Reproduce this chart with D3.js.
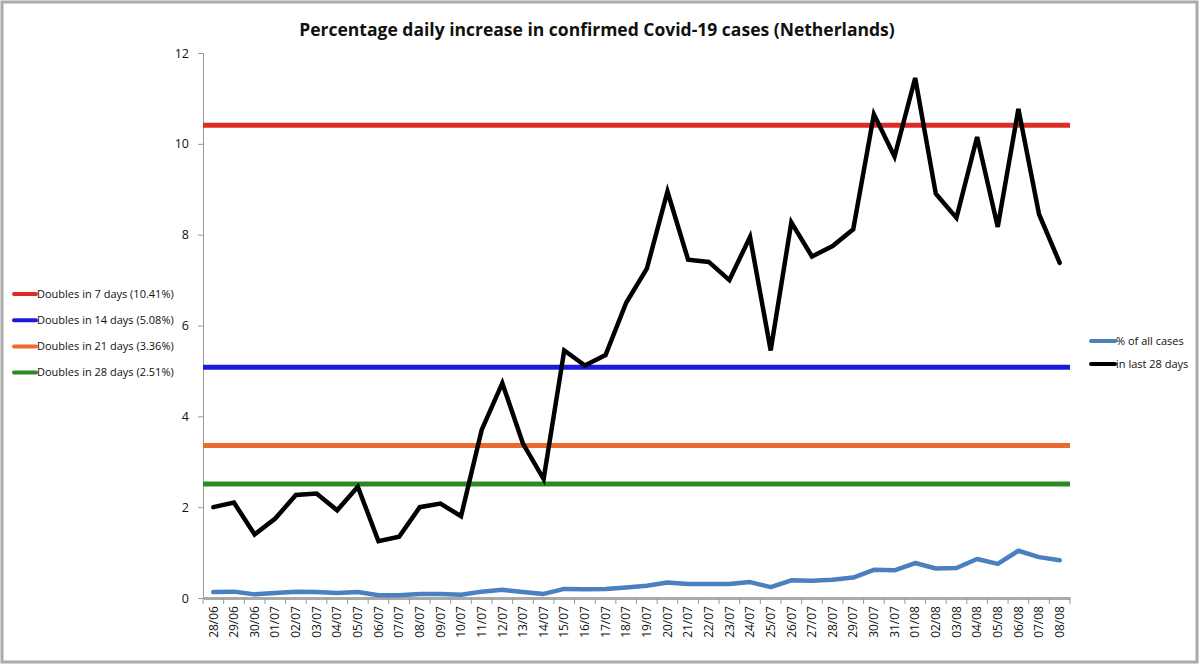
<!DOCTYPE html>
<html>
<head>
<meta charset="utf-8">
<script src="https://cdn.jsdelivr.net/npm/d3@7"></script>
<style>
  body { margin: 0; background: #fff; }
  text { font-family: "Open Sans", "DejaVu Sans", sans-serif; fill: #111; }
</style>
</head>
<body>
<div id="chart"></div>
<script>
// dates on the x axis
var dates = ["28/06","29/06","30/06","01/07","02/07","03/07","04/07","05/07","06/07","07/07",
  "08/07","09/07","10/07","11/07","12/07","13/07","14/07","15/07","16/07","17/07",
  "18/07","19/07","20/07","21/07","22/07","23/07","24/07","25/07","26/07","27/07",
  "28/07","29/07","30/07","31/07","01/08","02/08","03/08","04/08","05/08","06/08",
  "07/08","08/08"];

// % of all cases
var allCases = [0.13,0.14,0.08,0.11,0.14,0.13,0.11,0.13,0.06,0.06,
  0.09,0.09,0.07,0.14,0.18,0.13,0.09,0.20,0.19,0.20,
  0.23,0.27,0.34,0.31,0.31,0.31,0.35,0.24,0.39,0.38,
  0.40,0.45,0.62,0.61,0.77,0.65,0.66,0.86,0.75,1.04,
  0.90,0.83];

// in last 28 days
var last28 = [2.0,2.1,1.4,1.75,2.27,2.3,1.93,2.45,1.25,1.35,
  2.0,2.08,1.8,3.7,4.73,3.4,2.62,5.45,5.12,5.35,
  6.5,7.25,8.95,7.45,7.4,7.0,7.95,5.45,8.27,7.52,
  7.75,8.12,10.65,9.72,11.45,8.9,8.37,10.15,8.17,10.77,
  8.45,7.38];

// doubling reference lines
var refNames = ["Doubles in 7 days (10.41%)","Doubles in 14 days (5.08%)","Doubles in 21 days (3.36%)","Doubles in 28 days (2.51%)"];
var refValues = [10.41, 5.08, 3.36, 2.51];
var refColors = ["#dd2b26", "#1b1bdc", "#ea6b2b", "#2b8a21"];

var seriesNames = ["% of all cases", "in last 28 days"];
var seriesColors = ["#4a7fc0", "#000000"];

var yTicks = [0, 2, 4, 6, 8, 10, 12];

var width = 1200, height = 665;
var margin = {top: 53, right: 130, bottom: 67, left: 203};

var svg = d3.select("#chart").append("svg")
    .attr("width", width)
    .attr("height", height);

// frame
svg.append("rect")
    .attr("x", 2).attr("y", 2)
    .attr("width", width - 5).attr("height", height - 5)
    .attr("fill", "none")
    .attr("stroke", "#aaa")
    .attr("stroke-width", 3);

svg.append("text")
    .attr("x", 597).attr("y", 36)
    .attr("text-anchor", "middle")
    .style("font-size", "17.5px")
    .style("font-weight", "bold")
    .text("Percentage daily increase in confirmed Covid-19 cases (Netherlands)");

var x = d3.scaleBand()
    .domain(dates)
    .range([margin.left, width - margin.right]);

var y = d3.scaleLinear()
    .domain([0, 12])
    .range([height - margin.bottom, margin.top]);

// y axis
var yAxis = svg.append("g")
    .attr("transform", "translate(" + margin.left + ",0)")
    .call(d3.axisLeft(y).tickValues(yTicks).tickSize(5).tickPadding(9));
yAxis.select(".domain").attr("stroke", "#999");
yAxis.selectAll(".tick line").attr("stroke", "#999");
yAxis.selectAll("text").style("font-size", "12.5px").attr("fill", "#111");

// reference lines
svg.selectAll(".ref")
    .data(refValues)
    .enter().append("line")
    .attr("class", "ref")
    .attr("x1", margin.left)
    .attr("x2", width - margin.right)
    .attr("y1", function(d){ return y(d); })
    .attr("y2", function(d){ return y(d); })
    .attr("stroke", function(d, i){ return refColors[i]; })
    .attr("stroke-width", 5);

// x axis
var xAxis = svg.append("g")
    .attr("transform", "translate(0," + y(0) + ")")
    .call(d3.axisBottom(x).tickSize(0).tickPadding(0));
xAxis.select(".domain").attr("stroke", "#aaa").attr("stroke-width", 3);
xAxis.selectAll(".tick line").remove();
xAxis.selectAll("text")
    .attr("transform", "rotate(-90)")
    .attr("x", -8)
    .attr("y", 0)
    .attr("dy", "0.35em")
    .attr("text-anchor", "end")
    .style("font-size", "12px")
    .attr("fill", "#111");

// tick marks between bands
svg.selectAll(".xtick")
    .data(dates.concat(["end"]))
    .enter().append("line")
    .attr("class", "xtick")
    .attr("x1", function(d, i){ return i < dates.length ? x(d) : x(dates[dates.length - 1]) + x.bandwidth(); })
    .attr("x2", function(d, i){ return i < dates.length ? x(d) : x(dates[dates.length - 1]) + x.bandwidth(); })
    .attr("y1", y(0))
    .attr("y2", y(0) + 6)
    .attr("stroke", "#999");

var line = d3.line()
    .x(function(d, i){ return x(dates[i]) + x.bandwidth() / 2; })
    .y(function(d){ return y(d); });

svg.append("path")
    .datum(allCases)
    .attr("d", line)
    .attr("fill", "none")
    .attr("stroke", seriesColors[0])
    .attr("stroke-width", 4.5)
    .attr("stroke-linejoin", "round")
    .attr("stroke-linecap", "round");

svg.append("path")
    .datum(last28)
    .attr("d", line)
    .attr("fill", "none")
    .attr("stroke", seriesColors[1])
    .attr("stroke-width", 4.5)
    .attr("stroke-linejoin", "miter")
    .attr("stroke-linecap", "round");

// left legend
var legL = svg.selectAll(".legL")
    .data(refNames)
    .enter().append("g")
    .attr("transform", function(d, i){ return "translate(14," + (294 + i * 26.2) + ")"; });
legL.append("line")
    .attr("x1", 0).attr("x2", 22)
    .attr("stroke", function(d, i){ return refColors[i]; })
    .attr("stroke-width", 4)
    .attr("stroke-linecap", "round");
legL.append("text")
    .attr("x", 23).attr("dy", "0.35em")
    .style("font-size", "11px")
    .text(function(d){ return d; });

// right legend
var legR = svg.selectAll(".legR")
    .data(seriesNames)
    .enter().append("g")
    .attr("transform", function(d, i){ return "translate(1091," + (341 + i * 23) + ")"; });
legR.append("line")
    .attr("x1", 0).attr("x2", 24)
    .attr("stroke", function(d, i){ return seriesColors[i]; })
    .attr("stroke-width", 4)
    .attr("stroke-linecap", "round");
legR.append("text")
    .attr("x", 25).attr("dy", "0.35em")
    .style("font-size", "11px")
    .text(function(d){ return d; });
</script>
</body>
</html>
